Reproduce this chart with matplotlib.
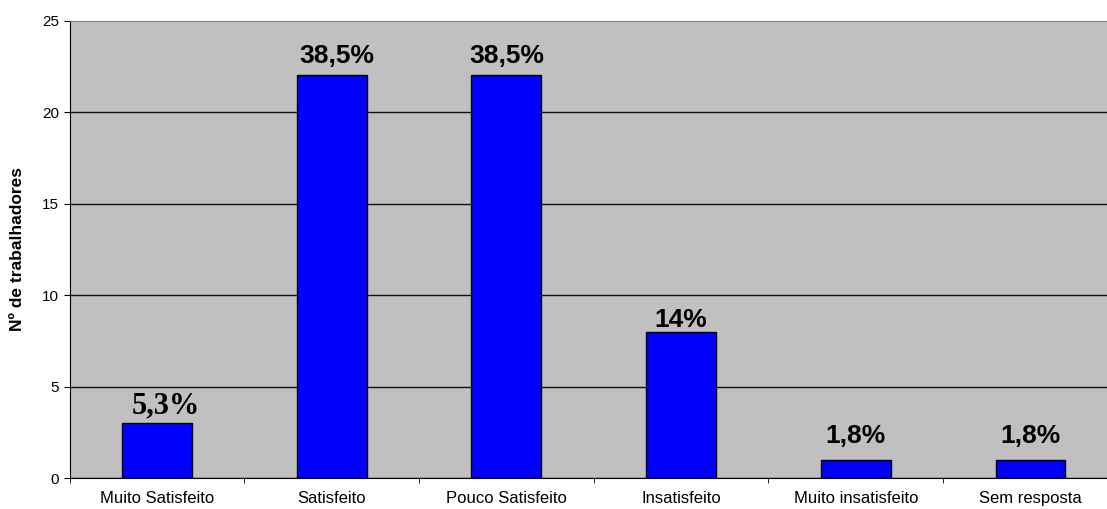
import numpy as np
import matplotlib.pyplot as plt

# --------------------------------------------------
# Data
# --------------------------------------------------

categories = [
    "Muito Satisfeito",
    "Satisfeito",
    "Pouco Satisfeito",
    "Insatisfeito",
    "Muito insatisfeito",
    "Sem resposta",
]
counts = [3, 22, 22, 8, 1, 1]
pct_labels = ["5,3%", "38,5%", "38,5%", "14%", "1,8%", "1,8%"]

# label offsets (points) as placed in the original chart
label_dx = [6.5, 3.5, 0, 0, 0, 0]
label_dy = [7.5, 8.8, 8.8, 3.6, 12.5, 12.5]

plt.rcParams["font.family"] = ["Liberation Sans", "DejaVu Sans"]

fig = plt.figure(figsize=(11.07, 5.09), dpi=100)
# plot area runs a little past the right edge, as in the original
ax = fig.add_axes([69.6 / 1107, 30.7 / 509, 1048.2 / 1107, 457.8 / 509])

x = np.arange(len(categories))
ax.set_facecolor("#C0C0C0")
ax.bar(x, counts, width=0.40, color="#0000FF", edgecolor="black",
       linewidth=1.0, zorder=3)

# ---------- Value labels ----------
for i, lab in enumerate(pct_labels):
    if i == 0:
        fam, size = ["Liberation Serif", "DejaVu Serif"], 22
    else:
        fam, size = ["Liberation Sans", "DejaVu Sans"], 19
    ax.annotate(lab, (x[i], counts[i]),
                xytext=(label_dx[i], label_dy[i]), textcoords="offset points",
                ha="center", va="baseline", fontsize=size, fontweight="bold",
                family=fam, zorder=4)

# ---------- Axes ----------
ax.set_xlim(-0.5, len(categories) - 0.5)
ax.set_ylim(0, 25)
ax.set_yticks(range(0, 26, 5))
ax.yaxis.grid(True, color="#111111", linewidth=1.0, zorder=1)
ax.get_ygridlines()[-1].set_visible(False)
ax.set_axisbelow(True)

ax.set_xticks(x)
ax.set_xticklabels(categories, fontsize=12)
ax.set_xticks(np.arange(-0.5, len(categories)), minor=True)
ax.tick_params(axis="x", which="major", length=0, pad=9)
ax.tick_params(axis="x", which="minor", length=3.6, direction="out")
ax.tick_params(axis="y", length=4.5, direction="out", labelsize=11, pad=3)

ax.spines["right"].set_visible(False)
ax.spines["top"].set_color("#808080")
ax.spines["left"].set_color("black")
ax.spines["bottom"].set_color("black")

ax.set_ylabel("Nº de trabalhadores", fontsize=12.5, fontweight="bold")
ax.yaxis.set_label_coords(-0.0426, 0.5)

plt.savefig("out.png", dpi=100)
plt.close()
